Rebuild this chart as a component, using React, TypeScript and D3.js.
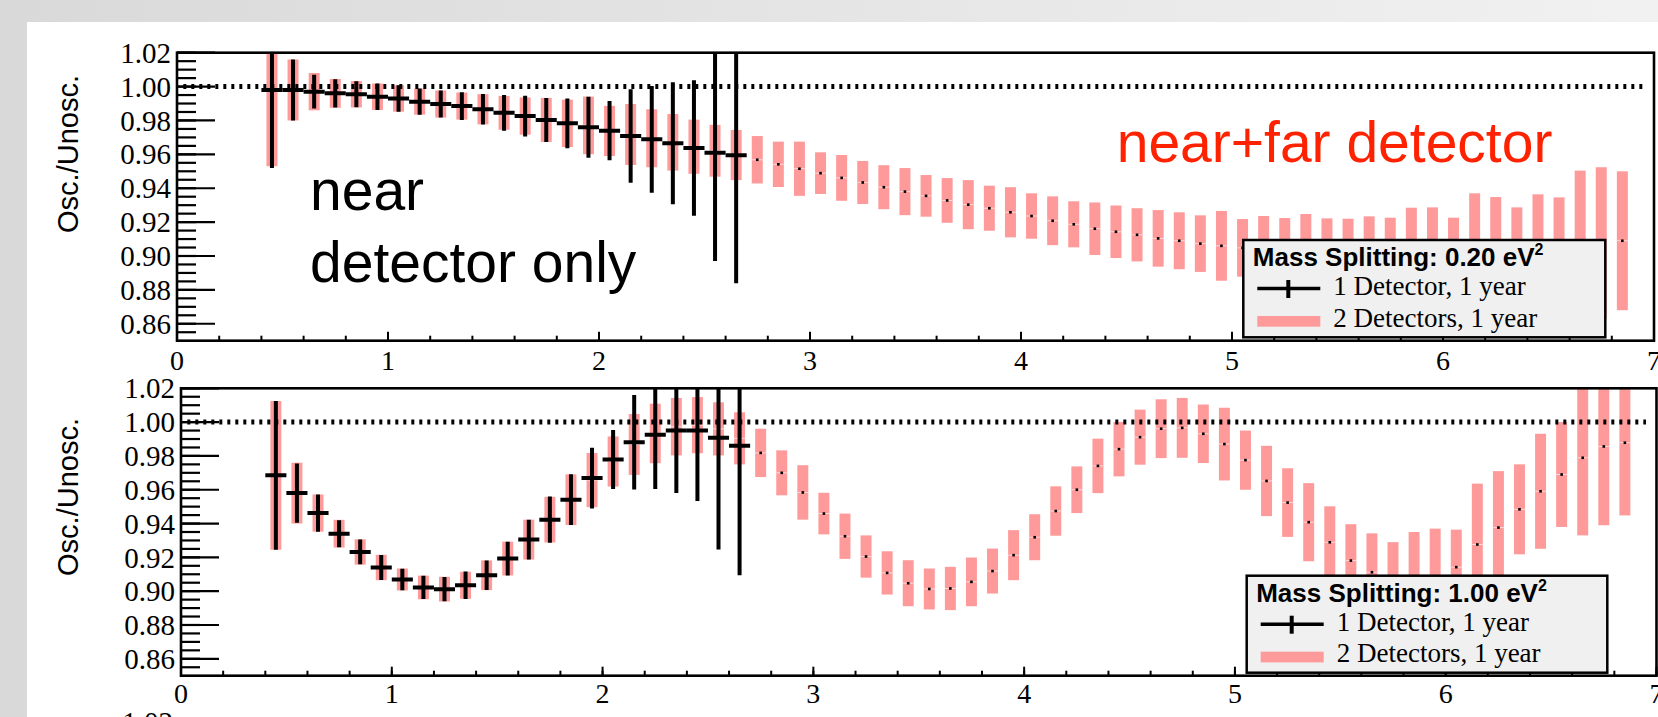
import * as d3 from "d3";
import React from "react";

// bin centres shared by both panels
const binCenters = [
  0.45, 0.55, 0.65, 0.75, 0.85, 0.95, 1.05, 1.15, 1.25, 1.35, 1.45, 1.55, 1.65,
  1.75, 1.85, 1.95, 2.05, 2.15, 2.25, 2.35, 2.45, 2.55, 2.65, 2.75, 2.85, 2.95,
  3.05, 3.15, 3.25, 3.35, 3.45, 3.55, 3.65, 3.75, 3.85, 3.95, 4.05, 4.15, 4.25,
  4.35, 4.45, 4.55, 4.65, 4.75, 4.85, 4.95, 5.05, 5.15, 5.25, 5.35, 5.45, 5.55,
  5.65, 5.75, 5.85, 5.95, 6.05, 6.15, 6.25, 6.35, 6.45, 6.55, 6.65, 6.75, 6.85,
];

// top panel (0.20 eV^2)
const topNearVal = [
  0.998, 0.998, 0.997, 0.996, 0.9955, 0.994, 0.993, 0.9911, 0.9897, 0.9885,
  0.9866, 0.9845, 0.9826, 0.9803, 0.9783, 0.976, 0.974, 0.9708, 0.9689, 0.9665,
  0.9638, 0.961, 0.9595,
];
const topNearErr = [
  0.046, 0.018, 0.01, 0.0083, 0.0077, 0.0078, 0.0078, 0.0077, 0.008, 0.0082,
  0.009, 0.0105, 0.012, 0.013, 0.0147, 0.018, 0.0175, 0.0276, 0.0315, 0.036,
  0.04, 0.064, 0.0756,
];
const topBothVal = [
  0.998, 0.998, 0.997, 0.996, 0.9955, 0.994, 0.993, 0.9911, 0.9897, 0.9885,
  0.9866, 0.9845, 0.9826, 0.9803, 0.9783, 0.9771, 0.9738, 0.9717, 0.9695,
  0.9671, 0.9645, 0.9621, 0.9596, 0.9568, 0.9541, 0.9515, 0.9489, 0.9461,
  0.9434, 0.9406, 0.938, 0.9355, 0.9328, 0.9303, 0.9282, 0.9258, 0.9236,
  0.9208, 0.9187, 0.9161, 0.9143, 0.9125, 0.9104, 0.909, 0.9073, 0.906, 0.9048,
  0.904, 0.903, 0.903, 0.902, 0.902, 0.902, 0.902, 0.903, 0.903, 0.904, 0.904,
  0.905, 0.906, 0.906, 0.907, 0.908, 0.9078, 0.909,
];
const topBothErr = [
  0.045, 0.018, 0.011, 0.0085, 0.0078, 0.0078, 0.0078, 0.0077, 0.008, 0.008,
  0.0089, 0.01, 0.011, 0.013, 0.014, 0.017, 0.0148, 0.018, 0.0171, 0.0167,
  0.016, 0.0153, 0.0148, 0.014, 0.0134, 0.016, 0.0123, 0.0135, 0.0127, 0.013,
  0.0139, 0.0123, 0.0132, 0.0145, 0.0133, 0.0148, 0.0134, 0.0144, 0.0136,
  0.0155, 0.0155, 0.0157, 0.0167, 0.0168, 0.0167, 0.0206, 0.017, 0.0196,
  0.0194, 0.0218, 0.0202, 0.02, 0.0214, 0.0206, 0.0255, 0.0257, 0.0186, 0.033,
  0.0298, 0.0227, 0.0304, 0.0276, 0.0424, 0.0446, 0.041,
];

// bottom panel (1.00 eV^2)
const botNearVal = [
  0.9685, 0.958, 0.9462, 0.934, 0.9232, 0.914, 0.9069, 0.9022, 0.9012, 0.9035,
  0.9094, 0.9193, 0.9305, 0.9423, 0.9541, 0.9669, 0.9779, 0.9881, 0.9925,
  0.995, 0.995, 0.9907, 0.986,
];
const botNearErr = [
  0.044, 0.0175, 0.011, 0.008, 0.0073, 0.0074, 0.0063, 0.0069, 0.0072, 0.0082,
  0.0087, 0.01, 0.0118, 0.0137, 0.015, 0.018, 0.0175, 0.028, 0.032, 0.037,
  0.0417, 0.066, 0.0766,
];
const botBothVal = [
  0.9685, 0.958, 0.9462, 0.934, 0.9232, 0.914, 0.9069, 0.9022, 0.9012, 0.9035,
  0.9094, 0.9193, 0.9305, 0.9423, 0.9541, 0.9657, 0.9767, 0.9868, 0.9933,
  0.9973, 0.9982, 0.996, 0.9904, 0.9818, 0.97, 0.9584, 0.9459, 0.9325, 0.9205,
  0.9108, 0.9047, 0.9013, 0.9016, 0.9055, 0.9119, 0.9213, 0.9319, 0.9474,
  0.96, 0.9741, 0.984, 0.9911, 0.9961, 0.9966, 0.9931, 0.987, 0.9775, 0.9652,
  0.9524, 0.9408, 0.9289, 0.9181, 0.9112, 0.906, 0.905, 0.907, 0.9142, 0.9276,
  0.9376, 0.9484, 0.9591, 0.969, 0.9789, 0.9856, 0.9878,
];
const botBothErr = [
  0.044, 0.018, 0.011, 0.0082, 0.0075, 0.0075, 0.0065, 0.007, 0.0073, 0.008,
  0.0088, 0.01, 0.0118, 0.0135, 0.015, 0.016, 0.0148, 0.018, 0.0176, 0.017,
  0.0166, 0.0157, 0.0154, 0.0143, 0.0133, 0.0161, 0.0123, 0.0134, 0.0125,
  0.0128, 0.0136, 0.0121, 0.0128, 0.0144, 0.0133, 0.0148, 0.0136, 0.0146,
  0.0138, 0.0161, 0.0161, 0.0163, 0.0174, 0.0177, 0.0173, 0.0215, 0.0175,
  0.0208, 0.0203, 0.0231, 0.0213, 0.0215, 0.023, 0.023, 0.03, 0.03, 0.0222,
  0.036, 0.0334, 0.0266, 0.034, 0.031, 0.0459, 0.0466, 0.043,
];

const yTickLabels = ["0.86", "0.88", "0.90", "0.92", "0.94", "0.96", "0.98", "1.00", "1.02"];
const xTickLabels = ["0", "1", "2", "3", "4", "5", "6", "7"];

const SERIF = "'Liberation Serif', 'Times New Roman', serif";
const SANS = "'Liberation Sans', Arial, Helvetica, sans-serif";
const PINK = "#ff9a9a";

const Legend = ({ x, y, w, h, mass }) => (
  <g>
    <rect x={x} y={y} width={w} height={h} fill="#f0f0f0" stroke="#000" strokeWidth={2.5} />
    <text x={x + 9.5} y={y + 26} fontFamily={SANS} fontWeight="bold" fontSize={26}>
      {`Mass Splitting: ${mass} eV`}
      <tspan fontSize={16} dy={-11}>2</tspan>
    </text>
    <line x1={x + 14} x2={x + 77} y1={y + 48.5} y2={y + 48.5} stroke="#000" strokeWidth={3.5} />
    <line x1={x + 45} x2={x + 45} y1={y + 40} y2={y + 58} stroke="#000" strokeWidth={4} />
    <text x={x + 90} y={y + 55} fontFamily={SERIF} fontSize={27}>1 Detector, 1 year</text>
    <rect x={x + 14} y={y + 76} width={63} height={10.7} fill={PINK} />
    <text x={x + 90} y={y + 86.7} fontFamily={SERIF} fontSize={27}>2 Detectors, 1 year</text>
  </g>
);

const Panel = ({ id, left, right, top, bottom, nearVal, nearErr, bothVal, bothErr, titleY, xLabelY }) => {
  const x = d3.scaleLinear().domain([0, 7]).range([left, right]);
  const y = d3.scaleLinear().domain([0.85, 1.02]).range([bottom, top]);
  const minorY = d3.range(0.855, 1.0201, 0.005);
  const majorY = yTickLabels.map(Number);
  const minorX = d3.range(0, 7.001, 0.2);
  const clipId = `clip-${id}`;

  return (
    <g>
      <defs>
        <clipPath id={clipId}>
          <rect x={left} y={top} width={right - left} height={bottom - top} />
        </clipPath>
      </defs>

      <g clipPath={`url(#${clipId})`}>
        {bothVal.map((v, i) => {
          const c = binCenters[i];
          return (
            <g key={`p${i}`}>
              <rect
                x={x(c - 0.026)}
                width={x(c + 0.026) - x(c - 0.026)}
                y={y(v + bothErr[i])}
                height={y(v - bothErr[i]) - y(v + bothErr[i])}
                fill={PINK}
              />
              <line x1={x(c - 0.026)} x2={x(c + 0.026)} y1={y(v)} y2={y(v)} stroke="#ffd6d6" strokeWidth={1} />
              <rect x={x(c) - 1.3} y={y(v) - 1.3} width={2.6} height={2.6} fill="#000" />
            </g>
          );
        })}

        <line
          x1={x(0.03)}
          x2={x(6.95)}
          y1={y(1)}
          y2={y(1)}
          stroke="#000"
          strokeWidth={5}
          strokeDasharray="3 5"
        />

        {nearVal.map((v, i) => {
          const c = binCenters[i];
          return (
            <g key={`n${i}`} stroke="#000" strokeWidth={4}>
              <line x1={x(c)} x2={x(c)} y1={y(v + nearErr[i])} y2={y(v - nearErr[i])} />
              <line x1={x(c - 0.05)} x2={x(c + 0.05)} y1={y(v)} y2={y(v)} />
            </g>
          );
        })}
      </g>

      {/* y ticks */}
      {minorY.map((t, i) => (
        <line key={`my${i}`} x1={left} x2={left + 19} y1={y(t)} y2={y(t)} stroke="#000" strokeWidth={2.2} />
      ))}
      {majorY.map((t, i) => (
        <g key={`My${i}`}>
          <line x1={left} x2={left + 38} y1={y(t)} y2={y(t)} stroke="#000" strokeWidth={2.2} />
          <text x={left - 6} y={y(t)} dy="0.35em" textAnchor="end" fontFamily={SERIF} fontSize={29}>
            {yTickLabels[i]}
          </text>
        </g>
      ))}

      {/* x ticks */}
      {minorX.map((t, i) => (
        <line key={`mx${i}`} x1={x(t)} x2={x(t)} y1={bottom} y2={bottom - 5} stroke="#000" strokeWidth={2} />
      ))}
      {xTickLabels.map((l, i) => (
        <g key={`Mx${i}`}>
          <line x1={x(i)} x2={x(i)} y1={bottom} y2={bottom - 9} stroke="#000" strokeWidth={2} />
          <text x={x(i)} y={xLabelY} textAnchor="middle" fontFamily={SERIF} fontSize={28}>
            {l}
          </text>
        </g>
      ))}

      <rect x={left} y={top} width={right - left} height={bottom - top} fill="none" stroke="#000" strokeWidth={2.6} />

      <text
        transform={`translate(78,${titleY}) rotate(-90)`}
        textAnchor="end"
        fontFamily={SANS}
        fontSize={29}
      >
        Osc./Unosc.
      </text>
    </g>
  );
};

export default function App() {
  return (
    <svg
      width={1658}
      height={717}
      style={{ position: "absolute", left: 0, top: 0, display: "block" }}
    >
      <defs>
        <linearGradient id="bg" x1="0" x2="1" y1="0" y2="0">
          <stop offset="0" stopColor="#d9d9d9" />
          <stop offset="1" stopColor="#f1f1f1" />
        </linearGradient>
      </defs>
      <rect x={0} y={0} width={1658} height={717} fill="url(#bg)" />
      <rect x={27} y={22} width={1631} height={695} fill="#fff" />

      <Panel
        id="top"
        left={177}
        right={1654}
        top={52.7}
        bottom={340.7}
        nearVal={topNearVal}
        nearErr={topNearErr}
        bothVal={topBothVal}
        bothErr={topBothErr}
        titleY={75}
        xLabelY={369.5}
      />
      <Panel
        id="bot"
        left={181}
        right={1656.5}
        top={388.3}
        bottom={675.7}
        nearVal={botNearVal}
        nearErr={botNearErr}
        bothVal={botBothVal}
        bothErr={botBothErr}
        titleY={418}
        xLabelY={703}
      />

      <text x={310} y={210} fontFamily={SANS} fontSize={57}>near</text>
      <text x={310} y={281.7} fontFamily={SANS} fontSize={57}>detector only</text>
      <text x={1116.7} y={161.7} fontFamily={SANS} fontSize={57} fill="#ff2200">near+far detector</text>

      <Legend x={1243.3} y={240} w={362} h={97.3} mass="0.20" />
      <Legend x={1246.7} y={575.7} w={360.6} h={97} mass="1.00" />

      {/* top of the next panel's label, cut off by the page edge */}
      <text x={173} y={732} textAnchor="end" fontFamily={SERIF} fontSize={29}>1.02</text>
    </svg>
  );
}
